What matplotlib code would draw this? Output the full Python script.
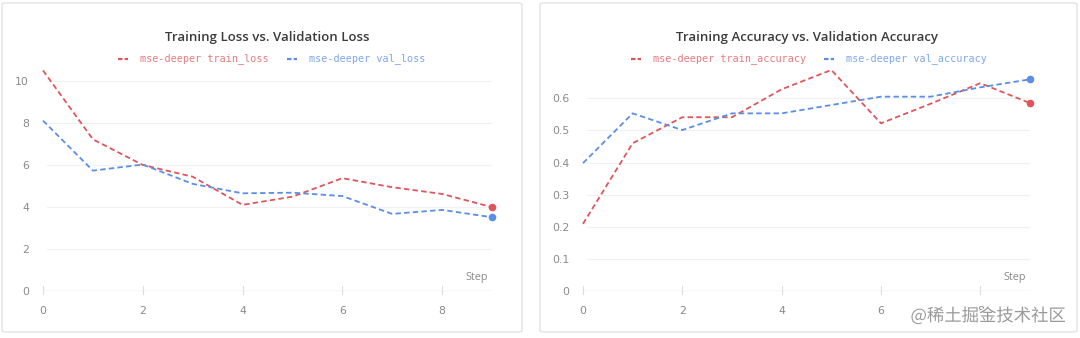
import numpy as np
import matplotlib
matplotlib.use("Agg")
import matplotlib.pyplot as plt
from matplotlib.patches import FancyBboxPatch
from matplotlib.lines import Line2D
import matplotlib.patheffects as pe

steps = list(range(10))

train_loss = [10.5, 7.22, 6.0, 5.44, 4.1, 4.49, 5.37, 4.94, 4.62, 3.99]
val_loss = [8.11, 5.73, 6.02, 5.1, 4.65, 4.68, 4.52, 3.67, 3.86, 3.51]

train_acc = [0.209, 0.46, 0.541, 0.541, 0.628, 0.688, 0.522, 0.583, 0.647, 0.585]
val_acc = [0.398, 0.553, 0.501, 0.553, 0.553, 0.579, 0.605, 0.605, 0.634, 0.659]

loss_ticks = [0, 2, 4, 6, 8, 10]
acc_ticks = [0, 0.1, 0.2, 0.3, 0.4, 0.5, 0.6]
acc_labels = ["0", "0.1", "0.2", "0.3", "0.4", "0.5", "0.6"]
x_ticks = [0, 2, 4, 6, 8]

RED = "#e0555c"
BLUE = "#5b8ee6"
RED_TXT = "#e87a80"
BLUE_TXT = "#7fa8ee"

W, H = 1080, 338
fig = plt.figure(figsize=(W / 100, H / 100), dpi=100)
fig.patch.set_facecolor("white")


def px(x, y):
    return x / W, 1 - y / H


# panel frames, kept behind the axes
for x0, x1 in [(2, 522), (540, 1077)]:
    fx, fy = px(x0, 332)
    box = FancyBboxPatch((fx, fy), (x1 - x0) / W, (332 - 3) / H,
                         boxstyle="round,pad=0,rounding_size=0.004",
                         transform=fig.transFigure, facecolor="white",
                         edgecolor="#e3e3e3", linewidth=1.0, zorder=-5)
    fig.patches.append(box)


def make_panel(left, right, ymax, yticks, ylabels, title, series, legend_pos):
    ax = fig.add_axes([left / W, (H - 291) / H, (right - left) / W, 221 / H])
    ax.set_facecolor("none")
    ax.set_xlim(0, 9)
    ax.set_ylim(0, ymax)
    for s in ax.spines.values():
        s.set_visible(False)
    ax.axhline(0, color="#dedede", lw=1.0, zorder=1)
    for t in yticks[1:]:
        ax.axhline(t, xmin=4 / (right - left), color="#f1f1f1", lw=0.8, zorder=0)
    ax.set_yticks(yticks)
    ax.set_yticklabels(ylabels)
    ax.set_xticks(x_ticks)
    ax.tick_params(axis="y", length=0, pad=10, labelsize=7.8, labelcolor="#8a8a8a")
    ax.tick_params(axis="x", length=0, pad=11, labelsize=7.8, labelcolor="#8a8a8a")
    for xt in x_ticks:
        ax.plot([xt, xt], [0, ymax * 0.022], color="#dedede", lw=0.8,
                clip_on=False, zorder=1)
        ax.plot([xt, xt], [0, -ymax * 0.012], color="#dedede", lw=0.8,
                clip_on=False, zorder=1)
    for vals, col in series:
        ax.plot(steps, vals, color=col, lw=1.3, ls=(0, (3, 1.8)),
                clip_on=False, zorder=3)
        ax.plot(steps[-1], vals[-1], "o", color=col, ms=4.5, mec=col,
                clip_on=False, zorder=4)
    ax.text(0.965, 0.035, "Step", transform=ax.transAxes, ha="center",
            va="bottom", fontsize=7.8, color="#8a8a8a", family="Open Sans")

    cx = (left + right) / 2
    fig.text(*px(cx, 37), title, ha="center", va="center", fontsize=9.5,
             fontweight="semibold", color="#3c3c3c", family="Open Sans")
    for (hx, tx, label, col, tcol) in legend_pos:
        x0, y0 = px(hx, 59)
        x1, _ = px(hx + 10, 59)
        fig.lines.append(Line2D([x0, x1], [y0, y0], transform=fig.transFigure,
                                color=col, lw=1.6, ls=(0, (2, 1))))
        fig.text(*px(tx, 59), label, ha="left", va="center", fontsize=7.3,
                 color=tcol, family="DejaVu Sans Mono")
    return ax


make_panel(43, 492, 10.52, loss_ticks, [str(t) for t in loss_ticks],
           "Training Loss vs. Validation Loss",
           [(train_loss, RED), (val_loss, BLUE)],
           [(118, 140, "mse-deeper train_loss", RED, RED_TXT),
            (287, 309, "mse-deeper val_loss", BLUE, BLUE_TXT)])

make_panel(583, 1030, 0.688, acc_ticks, acc_labels,
           "Training Accuracy vs. Validation Accuracy",
           [(train_acc, RED), (val_acc, BLUE)],
           [(631, 653, "mse-deeper train_accuracy", RED, RED_TXT),
            (824, 846, "mse-deeper val_accuracy", BLUE, BLUE_TXT)])

fig.text(*px(1066, 316), "@稀土掘金技术社区", ha="right", va="center",
         fontsize=12.5, color="#9a9a9a",
         family=["Noto Sans CJK SC", "DejaVu Sans"],
         path_effects=[pe.withStroke(linewidth=2, foreground="white")])

fig.savefig("out.png", dpi=100, facecolor="white")
